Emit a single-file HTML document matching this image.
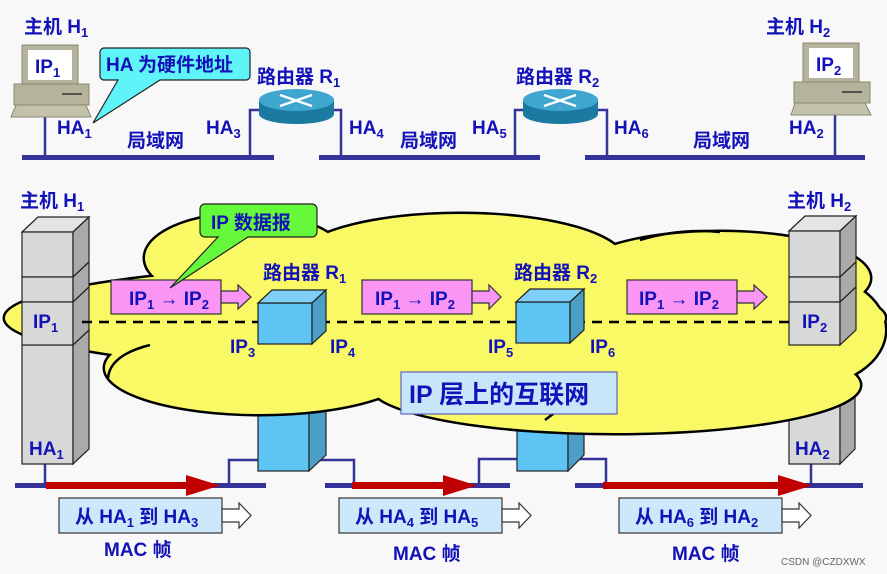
<!DOCTYPE html>
<html><head><meta charset="utf-8"><style>
html,body{margin:0;padding:0;background:#f8f8f8}
svg{display:block}
text{font-family:"Liberation Sans","Noto Sans CJK SC",sans-serif;font-weight:bold;fill:#1212b8}
</style></head><body>
<svg width="887" height="574" viewBox="0 0 887 574" xmlns="http://www.w3.org/2000/svg">
<defs>
<g id="cloudShapes">
<ellipse cx="445" cy="318" rx="440" ry="55"/>
<ellipse cx="245" cy="258" rx="100" ry="44"/>
<ellipse cx="460" cy="262" rx="165" ry="48"/>
<ellipse cx="720" cy="278" rx="150" ry="46"/>
<ellipse cx="260" cy="368" rx="155" ry="46"/>
<ellipse cx="615" cy="385" rx="245" ry="48"/>
<ellipse cx="800" cy="330" rx="85" ry="57"/>
</g>
</defs>
<rect width="887" height="574" fill="#f8f8f8"/>

<!-- TOP SECTION -->
<g fill="#333399">
<rect x="22" y="155" width="252" height="5"/>
<rect x="319" y="155" width="221" height="5"/>
<rect x="585" y="155" width="280" height="5"/>
</g>
<g stroke="#333399" stroke-width="2.5" fill="none">
<line x1="45" y1="115" x2="45" y2="157"/>
<polyline points="250,157 250,110 262,110"/>
<polyline points="330,110 341,110 341,157"/>
<polyline points="515,157 515,110 526,110"/>
<polyline points="595,110 607,110 607,157"/>
<line x1="835" y1="115" x2="835" y2="157"/>
</g>
<g stroke="#888870" stroke-width="1">
<rect x="22" y="45" width="56" height="40" fill="#b5b39b"/>
<rect x="28" y="50" width="44" height="30" fill="#fff" stroke="none"/>
<rect x="14" y="84" width="75" height="21" fill="#b5b39b"/>
<line x1="62" y1="94" x2="82" y2="94" stroke="#333" stroke-width="1.5"/>
<polygon points="16,105 86,105 91,117 11,117" fill="#c4c2aa"/>
</g>
<text x="35" y="73" font-size="19">IP<tspan font-size="13" dy="4">1</tspan></text>
<g stroke="#888870" stroke-width="1">
<rect x="803" y="43" width="56" height="40" fill="#b5b39b"/>
<rect x="809" y="48" width="44" height="30" fill="#fff" stroke="none"/>
<rect x="794" y="82" width="76" height="21" fill="#b5b39b"/>
<line x1="842" y1="92" x2="862" y2="92" stroke="#333" stroke-width="1.5"/>
<polygon points="795,103 865,103 871,115 791,115" fill="#c4c2aa"/>
</g>
<text x="816" y="71" font-size="19">IP<tspan font-size="13" dy="4">2</tspan></text>
<g>
<rect x="259" y="100" width="75" height="14" fill="#1a7aa0"/>
<ellipse cx="296.5" cy="114" rx="37.5" ry="10" fill="#1a7aa0"/>
<ellipse cx="296.5" cy="100" rx="37.5" ry="11" fill="#3fa6cf"/>
<g stroke="#fff" stroke-width="2.5" fill="none"><line x1="280" y1="95" x2="312" y2="106"/><line x1="280" y1="106" x2="312" y2="95"/></g>
<rect x="523" y="100" width="75" height="14" fill="#1a7aa0"/>
<ellipse cx="560.5" cy="114" rx="37.5" ry="10" fill="#1a7aa0"/>
<ellipse cx="560.5" cy="100" rx="37.5" ry="11" fill="#3fa6cf"/>
<g stroke="#fff" stroke-width="2.5" fill="none"><line x1="544" y1="95" x2="576" y2="106"/><line x1="544" y1="106" x2="576" y2="95"/></g>
</g>
<path d="M104,48 H246 a4,4 0 0 1 4,4 V76 a4,4 0 0 1 -4,4 H160 L93,123 L118,80 H104 a4,4 0 0 1 -4,-4 V52 a4,4 0 0 1 4,-4 Z" fill="#5ef4f8" stroke="#222" stroke-width="1.2"/>
<text x="106" y="71" font-size="19">HA 为硬件地址</text>

<text x="24" y="33" font-size="19">主机 H<tspan font-size="13" dy="4">1</tspan></text>
<text x="766" y="33" font-size="19">主机 H<tspan font-size="13" dy="4">2</tspan></text>
<text x="257" y="83" font-size="19">路由器 R<tspan font-size="13" dy="4">1</tspan></text>
<text x="516" y="83" font-size="19">路由器 R<tspan font-size="13" dy="4">2</tspan></text>
<text x="57" y="134" font-size="19">HA<tspan font-size="13" dy="4">1</tspan></text>
<text x="206" y="134" font-size="19">HA<tspan font-size="13" dy="4">3</tspan></text>
<text x="349" y="134" font-size="19">HA<tspan font-size="13" dy="4">4</tspan></text>
<text x="472" y="134" font-size="19">HA<tspan font-size="13" dy="4">5</tspan></text>
<text x="614" y="134" font-size="19">HA<tspan font-size="13" dy="4">6</tspan></text>
<text x="789" y="134" font-size="19">HA<tspan font-size="13" dy="4">2</tspan></text>
<text x="127" y="147" font-size="19">局域网</text>
<text x="400" y="147" font-size="19">局域网</text>
<text x="693" y="147" font-size="19">局域网</text>

<!-- middle host labels -->
<text x="20" y="207" font-size="19">主机 H<tspan font-size="13" dy="4">1</tspan></text>
<text x="787" y="207" font-size="19">主机 H<tspan font-size="13" dy="4">2</tspan></text>

<!-- BOTTOM LINES -->
<g fill="#333399">
<rect x="15" y="483" width="251" height="5"/>
<rect x="325" y="483" width="185" height="5"/>
<rect x="575" y="483" width="288" height="5"/>
</g>
<g stroke="#333399" stroke-width="2.5" fill="none">
<line x1="45" y1="463" x2="45" y2="485"/>
<polyline points="229,485 229,460 260,460"/>
<polyline points="313,460 354,460 354,485"/>
<polyline points="479,485 479,459 518,459"/>
<polyline points="573,459 606,459 606,485"/>
<line x1="811" y1="463" x2="811" y2="485"/>
</g>
<g fill="#c00000">
<rect x="46" y="482" width="145" height="7"/><polygon points="186,475 220,485.5 186,496"/>
<rect x="352" y="482" width="96" height="7"/><polygon points="443,475 477,485.5 443,496"/>
<rect x="603" y="482" width="180" height="7"/><polygon points="778,475 812,485.5 778,496"/>
</g>
<g stroke="#333" stroke-width="1.2">
<rect x="59" y="498" width="163" height="35" fill="#cce8fa"/>
<polygon points="222,509 239,509 239,503 251,515.5 239,528 239,522 222,522" fill="#fff"/>
<rect x="339" y="498" width="163" height="35" fill="#cce8fa"/>
<polygon points="502,509 519,509 519,503 531,515.5 519,528 519,522 502,522" fill="#fff"/>
<rect x="619" y="498" width="163" height="35" fill="#cce8fa"/>
<polygon points="782,509 799,509 799,503 811,515.5 799,528 799,522 782,522" fill="#fff"/>
</g>
<text x="75" y="523" font-size="19">从 HA<tspan font-size="13" dy="4">1</tspan><tspan dy="-4"> 到 HA</tspan><tspan font-size="13" dy="4">3</tspan></text>
<text x="355" y="523" font-size="19">从 HA<tspan font-size="13" dy="4">4</tspan><tspan dy="-4"> 到 HA</tspan><tspan font-size="13" dy="4">5</tspan></text>
<text x="635" y="523" font-size="19">从 HA<tspan font-size="13" dy="4">6</tspan><tspan dy="-4"> 到 HA</tspan><tspan font-size="13" dy="4">2</tspan></text>
<text x="104" y="556" font-size="19">MAC 帧</text>
<text x="393" y="560" font-size="19">MAC 帧</text>
<text x="672" y="560" font-size="19">MAC 帧</text>

<g stroke="#222" stroke-width="1.2">
<rect x="258" y="400" width="51" height="71" fill="#5ec4f4"/>
<polygon points="309,400 326,385 326,455 309,471" fill="#4b9ec6"/>
<rect x="517" y="400" width="51" height="71" fill="#5ec4f4"/>
<polygon points="568,400 584,385 584,455 568,471" fill="#4b9ec6"/>
</g>
<g stroke="#222" stroke-width="1.2">
<rect x="789" y="345" width="51" height="119" fill="#d8d8d8"/>
<polygon points="840,345 855,330 855,449 840,464" fill="#aaa"/>
</g>
<text x="795" y="455" font-size="19">HA<tspan font-size="13" dy="4">2</tspan></text>

<!-- CLOUD -->
<g fill="none" stroke="#000" stroke-width="5"><use href="#cloudShapes"/></g>
<g fill="#f9f966" stroke="none"><use href="#cloudShapes"/></g>
<g fill="none" stroke="#000" stroke-width="2.5">
<path d="M150,345 Q110,355 108,378"/>
<path d="M600,392 Q570,400 545,420"/>
<path d="M640,240 Q680,228 720,232"/>
</g>

<g stroke="#222" stroke-width="1.2">
<rect x="22" y="345" width="51" height="119" fill="#d8d8d8"/>
<polygon points="73,345 89,330 89,449 73,464" fill="#aaa"/>
<polygon points="22,232 38,217 89,217 73,232" fill="#e4e4e4"/>
<rect x="22" y="232" width="51" height="45" fill="#d8d8d8"/>
<polygon points="73,232 89,217 89,262 73,277" fill="#aaa"/>
<rect x="22" y="277" width="51" height="25" fill="#d8d8d8"/>
<polygon points="73,277 89,262 89,287 73,302" fill="#aaa"/>
<rect x="22" y="302" width="51" height="43" fill="#d8d8d8"/>
<polygon points="73,302 89,287 89,330 73,345" fill="#aaa"/>
</g>
<text x="29" y="455" font-size="19">HA<tspan font-size="13" dy="4">1</tspan></text>
<text x="33" y="328" font-size="19">IP<tspan font-size="13" dy="4">1</tspan></text>
<g stroke="#222" stroke-width="1.2">
<polygon points="789,231 805,216 856,216 840,231" fill="#e4e4e4"/>
<rect x="789" y="231" width="51" height="46" fill="#d8d8d8"/>
<polygon points="840,231 856,216 856,262 840,277" fill="#aaa"/>
<rect x="789" y="277" width="51" height="25" fill="#d8d8d8"/>
<polygon points="840,277 856,262 856,287 840,302" fill="#aaa"/>
<rect x="789" y="302" width="51" height="43" fill="#d8d8d8"/>
<polygon points="840,302 856,287 856,330 840,345" fill="#aaa"/>
</g>
<text x="802" y="328" font-size="19">IP<tspan font-size="13" dy="4">2</tspan></text>

<line x1="82" y1="322" x2="790" y2="322" stroke="#000" stroke-width="2.5" stroke-dasharray="10,7"/>

<g stroke="#222" stroke-width="1.2">
<rect x="258" y="303" width="54" height="41" fill="#5ec4f4"/>
<polygon points="258,303 272,290 326,290 312,303" fill="#7fd0f6"/>
<polygon points="312,303 326,290 326,331 312,344" fill="#4b9ec6"/>
<rect x="516" y="302" width="54" height="41" fill="#5ec4f4"/>
<polygon points="516,302 530,289 584,289 570,302" fill="#7fd0f6"/>
<polygon points="570,302 584,289 584,330 570,343" fill="#4b9ec6"/>
</g>
<text x="263" y="279" font-size="19">路由器 R<tspan font-size="13" dy="4">1</tspan></text>
<text x="514" y="279" font-size="19">路由器 R<tspan font-size="13" dy="4">2</tspan></text>
<text x="230" y="353" font-size="19">IP<tspan font-size="13" dy="4">3</tspan></text>
<text x="330" y="353" font-size="19">IP<tspan font-size="13" dy="4">4</tspan></text>
<text x="488" y="353" font-size="19">IP<tspan font-size="13" dy="4">5</tspan></text>
<text x="590" y="353" font-size="19">IP<tspan font-size="13" dy="4">6</tspan></text>

<g stroke="#333" stroke-width="1.2">
<rect x="111" y="280" width="110" height="34" fill="#f995f5"/>
<polygon points="221,291 238,291 238,285 251,297 238,309 238,303 221,303" fill="#f995f5"/>
<rect x="362" y="280" width="110" height="34" fill="#f995f5"/>
<polygon points="472,291 489,291 489,285 501,297 489,309 489,303 472,303" fill="#f995f5"/>
<rect x="627" y="280" width="110" height="34" fill="#f995f5"/>
<polygon points="737,291 754,291 754,285 767,297 754,309 754,303 737,303" fill="#f995f5"/>
</g>
<text x="129" y="305" font-size="19">IP<tspan font-size="13" dy="4">1</tspan><tspan dy="-4"> → IP</tspan><tspan font-size="13" dy="4">2</tspan></text>
<text x="375" y="305" font-size="19">IP<tspan font-size="13" dy="4">1</tspan><tspan dy="-4"> → IP</tspan><tspan font-size="13" dy="4">2</tspan></text>
<text x="639" y="305" font-size="19">IP<tspan font-size="13" dy="4">1</tspan><tspan dy="-4"> → IP</tspan><tspan font-size="13" dy="4">2</tspan></text>

<path d="M205,204 H312 a5,5 0 0 1 5,5 V232 a5,5 0 0 1 -5,5 H248 L170,288 L218,237 H205 a5,5 0 0 1 -5,-5 V209 a5,5 0 0 1 5,-5 Z" fill="#66f83a" stroke="#222" stroke-width="1.2"/>
<text x="211" y="229" font-size="19">IP 数据报</text>

<rect x="401" y="372" width="216" height="42" fill="#c8e6fa" stroke="#6060c0" stroke-width="1.2"/>
<text x="409" y="403" font-size="25">IP 层上的互联网</text>

<text x="781" y="565" font-size="10" style="font-weight:normal;fill:#666">CSDN @CZDXWX</text>
</svg>
</body></html>
